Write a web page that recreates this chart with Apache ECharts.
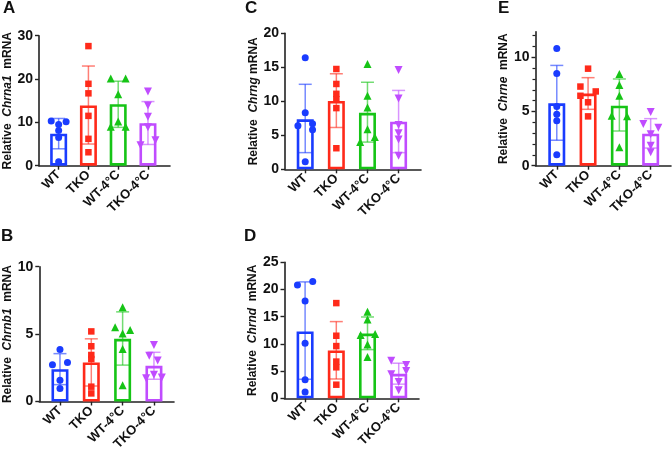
<!DOCTYPE html>
<html>
<head>
<meta charset="utf-8">
<script src="https://cdn.jsdelivr.net/npm/echarts@6/dist/echarts.min.js"></script>
<style>
  html, body { margin: 0; padding: 0; background: #fff; }
  #chart { width: 672px; height: 454px; }
</style>
</head>
<body>
<div id="chart"></div>
<script>
const groups = ['WT', 'TKO', 'WT-4°C', 'TKO-4°C'];
const colors = ['#1a3cff', '#ff2a1a', '#16c416', '#c04cff'];
const errColors = ['rgba(26,60,255,0.6)', 'rgba(255,42,26,0.6)', 'rgba(22,196,22,0.6)', 'rgba(192,76,255,0.6)'];

// A - Chrna1
const aMean = [7.4, 13.9, 14.2, 9.8];
const aLow = [3.9, 5.0, 8.85, 4.9];
const aHigh = [10.9, 23.0, 19.5, 14.8];
const aPts = [
  [10.3, 10.15, 9.5, 8.1, 6.5, 0.9],
  [27.6, 18.9, 16.7, 11.5, 6.2, 3.1],
  [20.1, 20.1, 16.5, 10.2, 9.0, 9.0],
  [17.1, 13.9, 11.3, 8.9, 5.9, 4.7]
];
const aJit = [
  [-0.25, 0.25, 0, 0, 0, 0],
  [0, 0, 0, 0, 0, 0],
  [-0.25, 0.25, 0, 0, -0.25, 0.25],
  [0, 0, 0, 0, 0.25, -0.25]
];

// B - Chrnb1
const bMean = [2.4, 2.9, 4.65, 2.65];
const bLow = [1.25, 1.15, 2.7, 1.65];
const bHigh = [3.55, 4.65, 6.65, 3.65];
const bPts = [
  [3.85, 2.9, 2.72, 1.58, 0.96],
  [5.2, 4.1, 3.45, 3.15, 1.1, 0.6],
  [7.0, 5.5, 5.3, 5.05, 3.9, 1.2],
  [4.2, 3.4, 3.05, 1.98, 1.78, 1.73]
];
const bJit = [
  [0, 0.24, -0.24, 0, 0],
  [0, 0, 0, 0, 0, 0],
  [0, -0.24, 0.24, 0, 0, 0],
  [0, -0.15, 0.12, 0, 0.25, -0.25]
];

// C - Chrng
const cMean = [7.35, 10.05, 8.3, 7.0];
const cLow = [2.45, 6.15, 4.0, 2.45];
const cHigh = [12.5, 14.05, 12.8, 11.6];
const cPts = [
  [16.4, 8.3, 6.7, 6.4, 5.8, 1.1],
  [14.75, 12.55, 11.1, 10.3, 9.0, 3.1],
  [15.5, 10.8, 9.1, 5.9, 4.75, 4.0],
  [14.6, 10.4, 6.5, 5.3, 4.4, 2.0]
];
const cJit = [
  [0, 0, 0.235, -0.235, 0.235, 0],
  [0, 0, 0, 0, 0, 0],
  [0, 0, 0, 0, 0.235, -0.235],
  [0, 0, 0, 0, 0, 0]
];

// D - Chrnd
const dMean = [12.3, 8.8, 11.9, 4.5];
const dLow = [3.5, 3.55, 8.95, 2.6];
const dHigh = [21.4, 14.1, 14.95, 6.45];
const dPts = [
  [21.45, 20.85, 17.9, 10.1, 3.4, 1.15],
  [17.5, 11.5, 9.6, 6.75, 5.7, 2.5],
  [15.9, 14.5, 11.8, 11.65, 9.9, 7.6],
  [6.9, 6.1, 5.0, 4.4, 3.0, 1.5]
];
const dJit = [
  [0.245, -0.245, 0, 0, 0, 0],
  [0, 0, 0, 0, 0, 0],
  [0, 0, 0.245, -0.22, 0, 0],
  [-0.24, 0.24, 0.24, -0.24, 0, 0]
];

// E - Chrne
const eMean = [5.75, 6.65, 5.54, 2.95];
const eLow = [2.35, 5.2, 3.2, 1.63];
const eHigh = [9.25, 8.12, 8.0, 4.34];
const ePts = [
  [10.8, 8.5, 5.45, 4.75, 4.15, 1.0],
  [8.95, 7.3, 6.85, 6.45, 5.85, 4.55],
  [8.45, 7.45, 6.45, 4.6, 4.55, 1.7],
  [4.95, 3.85, 3.5, 2.9, 1.85, 1.25]
];
const eJit = [
  [0, 0, 0, 0, 0, 0],
  [0, -0.245, 0.245, -0.245, 0, 0],
  [0, 0, 0, -0.245, 0.245, 0],
  [0, -0.235, 0.245, 0, 0, 0]
];

const panels = [
  {letter: 'A', gene: 'Chrna1', mean: aMean, low: aLow, high: aHigh, pts: aPts, jit: aJit,
   yMax: 30, yStep: 10, grid: {left: 39, top: 35.7, width: 131, height: 130}, xMin: -0.66, xMax: 3.74,
   lx: 10, ly: 9},
  {letter: 'B', gene: 'Chrnb1', mean: bMean, low: bLow, high: bHigh, pts: bPts, jit: bJit,
   yMax: 10, yStep: 5, grid: {left: 39.3, top: 266.7, width: 134.7, height: 134.8}, xMin: -0.66, xMax: 3.64,
   lx: 8, ly: 237},
  {letter: 'C', gene: 'Chrng', mean: cMean, low: cLow, high: cHigh, pts: cPts, jit: cJit,
   yMax: 20, yStep: 5, grid: {left: 285, top: 33.3, width: 136, height: 136}, xMin: -0.65, xMax: 3.72,
   lx: 252, ly: 9},
  {letter: 'D', gene: 'Chrnd', mean: dMean, low: dLow, high: dHigh, pts: dPts, jit: dJit,
   yMax: 25, yStep: 5, grid: {left: 284.5, top: 262.3, width: 134.5, height: 136}, xMin: -0.66, xMax: 3.65,
   lx: 251, ly: 237},
  {letter: 'E', gene: 'Chrne', mean: eMean, low: eLow, high: eHigh, pts: ePts, jit: eJit,
   yMax: 12.36, yStep: 5, grid: {left: 535.5, top: 31.7, width: 135.5, height: 134}, xMin: -0.68, xMax: 3.65,
   lx: 505, ly: 9, minor: [1, 2, 3, 4, 6, 7, 8, 9, 11, 12]}
];

const symbols = ['circle', 'rect', 'triangle', 'triangle'];
const symRot = [0, 0, 0, 180];
const symSize = [7, 6.5, 8, 8];

const font = 'Liberation Sans, Arial, Helvetica, sans-serif';
const axisColor = '#222';

let grids = [], xAxes = [], yAxes = [], series = [], graphics = [];

panels.forEach(function (p, i) {
  grids.push(Object.assign({containLabel: false, outerBoundsMode: 'none'}, p.grid));
  xAxes.push({
    type: 'value', gridIndex: i, min: p.xMin, max: p.xMax,
    axisLine: {show: true, onZero: false, lineStyle: {color: axisColor, width: 1.6}},
    axisTick: {show: true, customValues: [0, 1, 2, 3], length: 4, lineStyle: {color: axisColor, width: 1.4}},
    axisLabel: {
      customValues: [0, 1, 2, 3], rotate: 45, margin: 7,
      fontFamily: font, fontWeight: 'bold', fontSize: 13, color: '#111',
      formatter: function (v) { return groups[Math.round(v)]; }
    },
    splitLine: {show: false}
  });
  let yLabel = {fontFamily: font, fontWeight: 'bold', fontSize: 14, color: '#111', margin: 6};
  let yTick = {show: true, length: 4, lineStyle: {color: axisColor, width: 1.4}};
  if (p.minor) {
    yLabel.customValues = [0, 5, 10];
    yTick.customValues = [0, 5, 10];
  }
  yAxes.push({
    type: 'value', gridIndex: i, min: 0, max: p.yMax, interval: p.minor ? undefined : p.yStep,
    name: '{n|Relative  }{g|' + p.gene + '}{n|' + (p.letter === 'C' ? ' mRNA' : '  mRNA') + '}',
    nameLocation: 'middle', nameRotate: 90, nameGap: 25,
    nameTextStyle: {
      rich: {
        n: {fontFamily: font, fontWeight: 'bold', fontSize: 12, color: '#111'},
        g: {fontFamily: font, fontWeight: 'bold', fontStyle: 'italic', fontSize: 12, color: '#111'}
      }
    },
    axisLine: {show: true, onZero: false, lineStyle: {color: axisColor, width: 1.6}},
    axisTick: yTick,
    axisLabel: yLabel,
    splitLine: {show: false}
  });
  let yIdx = yAxes.length - 1;
  if (p.minor) {
    yAxes.push({
      type: 'value', gridIndex: i, min: 0, max: p.yMax, position: 'left',
      axisLine: {show: false, onZero: false},
      axisTick: {show: true, customValues: p.minor, length: 3, lineStyle: {color: axisColor, width: 1.2}},
      axisLabel: {show: false},
      splitLine: {show: false}
    });
  }

  // bars
  series.push({
    type: 'bar', xAxisIndex: i, yAxisIndex: yIdx, barWidth: 17, z: 2,
    data: p.mean.map(function (m, k) {
      return {value: [k, m], itemStyle: {color: '#fff', borderColor: colors[k], borderWidth: 2.6}};
    }),
    silent: true
  });

  // error bars (mean +/- SD)
  series.push({
    type: 'custom', xAxisIndex: i, yAxisIndex: yIdx, z: 3,
    data: p.mean.map(function (m, k) { return [k, p.low[k], p.high[k]]; }),
    encode: {x: 0, y: [1, 2]},
    renderItem: function (params, api) {
      const x = api.value(0);
      const lo = api.coord([x, api.value(1)]);
      const hi = api.coord([x, api.value(2)]);
      const c = errColors[params.dataIndex];
      const h = 6.5;
      const st = {stroke: c, lineWidth: 1.5};
      return {
        type: 'group',
        children: [
          {type: 'line', shape: {x1: lo[0], y1: lo[1], x2: hi[0], y2: hi[1]}, style: st},
          {type: 'line', shape: {x1: hi[0] - h, y1: hi[1], x2: hi[0] + h, y2: hi[1]}, style: st},
          {type: 'line', shape: {x1: lo[0] - h, y1: lo[1], x2: lo[0] + h, y2: lo[1]}, style: st}
        ]
      };
    },
    silent: true
  });

  // individual points
  p.pts.forEach(function (arr, k) {
    series.push({
      type: 'scatter', xAxisIndex: i, yAxisIndex: yIdx, z: 4,
      symbol: symbols[k], symbolRotate: symRot[k], symbolSize: symSize[k],
      itemStyle: {color: colors[k], opacity: 1},
      data: arr.map(function (v, j) { return [k + p.jit[k][j], v]; }),
      silent: true
    });
  });

  graphics.push({
    type: 'text', left: p.lx - 7, top: p.ly - 9,
    style: {text: p.letter, font: 'bold 17px ' + font, fill: '#111'}
  });
});

const chart = echarts.init(document.getElementById('chart'));
chart.setOption({
  animation: false,
  backgroundColor: '#fff',
  grid: grids,
  xAxis: xAxes,
  yAxis: yAxes,
  series: series,
  graphic: graphics
});
</script>
</body>
</html>
